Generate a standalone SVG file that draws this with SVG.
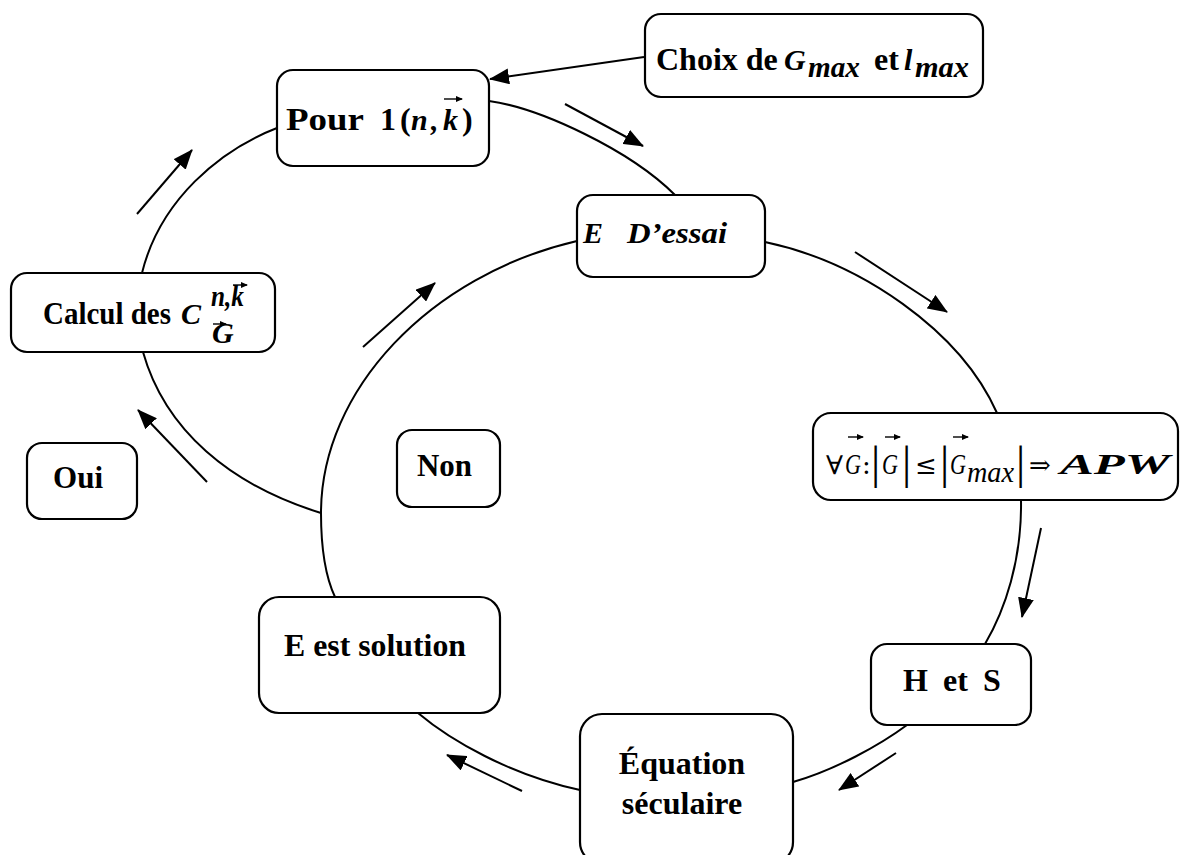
<svg xmlns="http://www.w3.org/2000/svg" width="1182" height="855" viewBox="0 0 1182 855">
  <style>
    .box { fill: #ffffff; stroke: #000000; stroke-width: 2.2; }
    .curve { fill: none; stroke: #000000; stroke-width: 2; }
    .arr { fill: none; stroke: #000000; stroke-width: 2; marker-end: url(#head); }
    .acc { fill: none; stroke: #000000; stroke-width: 1.4; marker-end: url(#tip); }
    .lbl { font-family: "Liberation Serif", "Times New Roman", serif; font-weight: bold; font-size: 32px; fill: #000; }
    .mi { font-family: "Liberation Serif", "Times New Roman", serif; font-weight: bold; font-style: italic; font-size: 30px; fill: #000; }
    .mr { font-family: "Liberation Serif", "Times New Roman", serif; font-style: italic; font-size: 30px; fill: #000; }
    .sym { font-family: "DejaVu Serif", "Liberation Serif", serif; font-size: 26px; fill: #000; }
    .bar { font-family: "Liberation Serif", serif; font-size: 46px; fill: #000; }
  </style>
  <defs>
    <marker id="head" markerUnits="userSpaceOnUse" markerWidth="20" markerHeight="16" viewBox="0 0 20 16" refX="19" refY="8" orient="auto">
      <path d="M0,0 L20,8 L0,16 Z" fill="#000"/>
    </marker>
    <marker id="tip" markerUnits="userSpaceOnUse" markerWidth="7" markerHeight="6" viewBox="0 0 7 6" refX="6" refY="3" orient="auto">
      <path d="M0,0 L7,3 L0,6 Z" fill="#000"/>
    </marker>
  </defs>

  <!-- cycle arcs and flow arrows -->
  <g id="connectors">
    <!-- outer loop -->
    <path class="curve" d="M489,101 C540,108 630,150 675,195"/>
    <path class="curve" d="M277,128 C220,150 160,200 142,273"/>
    <path class="curve" d="M143,352 C165,430 230,485 321,513"/>
    <!-- inner loop -->
    <path class="curve" d="M577,241 C430,275 321,390 321,513 C321,555 327,580 335,597"/>
    <path class="curve" d="M418,713 C450,740 510,775 580,790"/>
    <path class="curve" d="M793,782 C835,770 880,745 907,725"/>
    <path class="curve" d="M985,644 C1005,610 1022,560 1021,500"/>
    <path class="curve" d="M765,242 C860,262 960,330 997,413"/>
    <!-- direction arrows -->
    <line class="arr" x1="644" y1="57" x2="490" y2="79"/>
    <line class="arr" x1="565" y1="104" x2="643" y2="146"/>
    <line class="arr" x1="855" y1="252" x2="947" y2="312"/>
    <line class="arr" x1="1041" y1="528" x2="1022" y2="617"/>
    <line class="arr" x1="896" y1="753" x2="839" y2="790"/>
    <line class="arr" x1="522" y1="791" x2="447" y2="755"/>
    <line class="arr" x1="363" y1="347" x2="435" y2="283"/>
    <line class="arr" x1="207" y1="482" x2="138" y2="410"/>
    <line class="arr" x1="137" y1="214" x2="192" y2="150"/>
  </g>

  <g id="choix">
    <rect class="box" x="645" y="14" width="338" height="83" rx="16"/>
    <text class="lbl" x="656" y="70" font-size="31">Choix de</text>
    <text class="mi" x="784" y="70" font-size="31">G</text>
    <text class="mi" x="808" y="77" font-size="24" textLength="52" lengthAdjust="spacingAndGlyphs">max</text>
    <text class="lbl" x="874" y="70" font-size="31">et</text>
    <text class="mi" x="904" y="70" font-size="31">l</text>
    <text class="mi" x="915" y="77" font-size="24" textLength="54" lengthAdjust="spacingAndGlyphs">max</text>
  </g>

  <g id="pour">
    <rect class="box" x="277" y="70" width="212" height="96" rx="16"/>
    <text class="lbl" x="286" y="130" font-size="36" textLength="78" lengthAdjust="spacingAndGlyphs">Pour</text>
    <text class="lbl" x="380" y="130" font-size="34">1</text>
    <text class="lbl" x="400" y="130" font-size="34" font-weight="normal">(</text>
    <text class="mi" x="411" y="130" font-size="32">n</text>
    <text class="mi" x="431" y="130" font-size="32">,</text>
    <text class="mi" x="443" y="130" font-size="32">k</text>
    <path class="acc" d="M444,99 L462,99"/>
    <text class="lbl" x="462" y="130" font-size="34" font-weight="normal">)</text>
  </g>

  <g id="essai">
    <rect class="box" x="577" y="195" width="188" height="82" rx="16"/>
    <text class="mi" x="583" y="243" font-size="33">E</text>
    <text class="mi" x="627" y="243" font-size="33" textLength="100" lengthAdjust="spacingAndGlyphs">D’essai</text>
  </g>

  <g id="calcul">
    <rect class="box" x="11" y="273" width="264" height="79" rx="16"/>
    <text class="lbl" x="43" y="324" font-size="33" textLength="128" lengthAdjust="spacingAndGlyphs">Calcul des</text>
    <text class="mi" x="181" y="324" font-size="32">C</text>
    <text class="mi" x="211" y="306" font-size="20" textLength="33" lengthAdjust="spacingAndGlyphs">n,k</text>
    <path class="acc" d="M233,285 L247,285"/>
    <text class="mi" x="212" y="343" font-size="17">G</text>
    <path class="acc" d="M213,324 L226,324"/>
  </g>

  <g id="apw">
    <rect class="box" x="813" y="413" width="365" height="87" rx="18"/>
    <text class="sym" x="826" y="474" font-size="27" textLength="17" lengthAdjust="spacingAndGlyphs">∀</text>
    <text class="mr" x="845" y="474" textLength="16" lengthAdjust="spacingAndGlyphs">G</text>
    <path class="acc" d="M848,437 L863,437"/>
    <text class="sym" x="862" y="474" font-size="24">:</text>
    <text class="bar" x="871" y="478">|</text>
    <text class="mr" x="882" y="474" textLength="16" lengthAdjust="spacingAndGlyphs">G</text>
    <path class="acc" d="M885,437 L900,437"/>
    <text class="bar" x="902" y="478">|</text>
    <text class="sym" x="915" y="474" font-size="25">≤</text>
    <text class="bar" x="940" y="478">|</text>
    <text class="mr" x="950" y="474" textLength="16" lengthAdjust="spacingAndGlyphs">G</text>
    <path class="acc" d="M953,437 L968,437"/>
    <text class="mr" x="967" y="482" font-size="25" textLength="47" lengthAdjust="spacingAndGlyphs">max</text>
    <text class="bar" x="1016" y="478">|</text>
    <text class="sym" x="1029" y="474" font-size="25">⇒</text>
    <text class="mi" x="1060" y="474" font-size="32" textLength="110" lengthAdjust="spacingAndGlyphs">APW</text>
  </g>

  <g id="oui">
    <rect class="box" x="27" y="443" width="110" height="76" rx="15"/>
    <text class="lbl" x="53" y="488" textLength="50" lengthAdjust="spacingAndGlyphs">Oui</text>
  </g>

  <g id="non">
    <rect class="box" x="397" y="430" width="103" height="77" rx="15"/>
    <text class="lbl" x="417" y="476" textLength="55" lengthAdjust="spacingAndGlyphs">Non</text>
  </g>

  <g id="solution">
    <rect class="box" x="259" y="597" width="241" height="116" rx="20"/>
    <text class="lbl" x="284" y="656" textLength="182" lengthAdjust="spacingAndGlyphs">E est solution</text>
  </g>

  <g id="hs">
    <rect class="box" x="871" y="644" width="160" height="81" rx="16"/>
    <text class="lbl" x="903" y="691">H</text>
    <text class="lbl" x="943" y="691">et</text>
    <text class="lbl" x="983" y="691">S</text>
  </g>

  <g id="equation">
    <rect class="box" x="580" y="714" width="213" height="150" rx="22"/>
    <text class="lbl" x="682" y="774" text-anchor="middle">Équation</text>
    <text class="lbl" x="682" y="814" text-anchor="middle">séculaire</text>
  </g>
</svg>
